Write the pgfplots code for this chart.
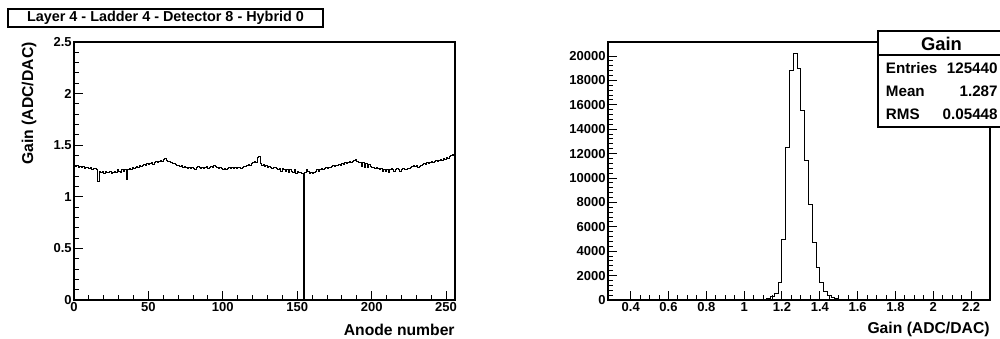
\documentclass[border=0pt]{standalone}
\usepackage{fontspec}
\setmainfont{Liberation Sans}
\usepackage{pgfplots}
\usepackage{pgfplotstable}
\pgfplotsset{compat=1.18}
\pgfplotstableread{
g
1.30
1.29
1.30
1.28
1.29
1.28
1.29
1.27
1.28
1.28
1.27
1.28
1.26
1.27
1.27
1.26
1.15
1.25
1.24
1.25
1.23
1.25
1.24
1.24
1.25
1.23
1.24
1.25
1.24
1.26
1.25
1.24
1.26
1.25
1.26
1.17
1.26
1.27
1.26
1.28
1.27
1.28
1.29
1.28
1.30
1.29
1.30
1.31
1.30
1.32
1.31
1.32
1.33
1.31
1.33
1.34
1.33
1.34
1.35
1.34
1.36
1.37
1.35
1.34
1.34
1.33
1.32
1.32
1.31
1.30
1.30
1.29
1.30
1.28
1.29
1.28
1.27
1.28
1.27
1.28
1.27
1.26
1.28
1.29
1.28
1.27
1.28
1.27
1.28
1.29
1.27
1.28
1.29
1.28
1.30
1.29
1.28
1.27
1.28
1.27
1.26
1.27
1.26
1.27
1.28
1.27
1.28
1.27
1.28
1.27
1.28
1.28
1.27
1.28
1.29
1.29
1.30
1.31
1.30
1.32
1.33
1.34
1.33
1.38
1.39
1.32
1.30
1.31
1.29
1.30
1.28
1.29
1.28
1.27
1.28
1.28
1.27
1.26
1.27
1.25
1.27
1.26
1.25
1.26
1.24
1.26
1.25
1.24
1.26
1.23
1.25
1.24
1.24
1.23
0
1.24
1.26
1.25
1.23
1.24
1.23
1.24
1.25
1.26
1.25
1.26
1.27
1.26
1.27
1.28
1.27
1.28
1.28
1.29
1.30
1.29
1.30
1.30
1.31
1.30
1.32
1.31
1.33
1.32
1.33
1.34
1.33
1.34
1.35
1.36
1.34
1.33
1.33
1.29
1.33
1.28
1.32
1.28
1.31
1.29
1.28
1.28
1.27
1.28
1.27
1.26
1.27
1.25
1.26
1.25
1.26
1.24
1.26
1.27
1.26
1.25
1.26
1.27
1.26
1.25
1.26
1.27
1.26
1.26
1.27
1.27
1.28
1.29
1.30
1.29
1.30
1.28
1.29
1.30
1.31
1.32
1.31
1.33
1.32
1.33
1.34
1.33
1.34
1.35
1.34
1.35
1.36
1.35
1.37
1.36
1.38
1.37
1.39
1.40
1.41
1.40
1.40
}\lefttab
\pgfplotstableread{
x n
0.28 0
1.08 0
1.10 40
1.12 120
1.14 300
1.16 520
1.18 1450
1.20 4940
1.22 12480
1.24 18830
1.26 20190
1.28 18990
1.30 15550
1.32 11420
1.34 7870
1.36 4700
1.38 2700
1.40 1420
1.42 710
1.44 330
1.46 170
1.48 100
1.50 50
1.52 20
1.54 0
2.30 0
}\righttab
\begin{document}
\begin{tikzpicture}[x=0.5pt,y=0.5pt,font=\bfseries]
\useasboundingbox (0,0) rectangle (1000,338);
\pgfplotsset{rootstyle/.style={
  scale only axis, height=129pt, anchor=south west,
  axis line style={line width=0.6pt},
  tick align=inside, xtick pos=bottom, ytick pos=left,
  major tick length=4.5pt, minor tick length=2.3pt,
  every tick/.style={black, line width=0.5pt},
  /pgf/number format/assume math mode=true,
  tick label style={font=\bfseries\fontsize{6.5}{7.8}\selectfont, inner sep=1pt},
  label style={font=\bfseries\fontsize{7.85}{9}\selectfont},
  xlabel style={at={(axis description cs:1,-0.116)}, anchor=east, inner sep=0pt},
}}
\begin{axis}[rootstyle, at={(37pt,19pt)}, width=190.5pt,
  xmin=0, xmax=256, ymin=0, ymax=2.5,
  xtick={0,50,100,150,200,250}, ytick={0,0.5,1,1.5,2,2.5},
  minor x tick num=4, minor y tick num=4,
  xlabel={Anode number}, ylabel={Gain (ADC/DAC)},
  ylabel style={at={(axis description cs:-0.118,1)}, anchor=east, inner sep=0pt}]
\addplot[const plot, black, line width=0.5pt] table[x expr=\coordindex, y=g] \lefttab;
\end{axis}
\begin{axis}[rootstyle, at={(304pt,19pt)}, width=191pt,
  xmin=0.28, xmax=2.3, ymin=0, ymax=21150,
  xtick={0.4,0.6,0.8,1,1.2,1.4,1.6,1.8,2,2.2},
  ytick={0,2000,4000,6000,8000,10000,12000,14000,16000,18000,20000},
  scaled y ticks=false,
  yticklabel style={/pgf/number format/1000 sep={}},
  minor x tick num=3, minor y tick num=4,
  xlabel={Gain (ADC/DAC)}]
\addplot[const plot, black, line width=0.5pt] table[x=x, y=n] \righttab;
\end{axis}
% title box
\draw[line width=0.6pt, fill=white] (8,311) rectangle (323,329);
\node[font=\bfseries\fontsize{7.2}{8.5}\selectfont] at (165.5,320) {Layer 4 - Ladder 4 - Detector 8 - Hybrid 0};
% stats box
\draw[line width=0.6pt, fill=white] (878,211) rectangle (1006,307);
\draw[line width=0.6pt] (878,283) -- (1006,283);
\node[font=\bfseries\fontsize{9.2}{11}\selectfont] at (941.5,294) {Gain};
\begin{scope}[every node/.style={font=\bfseries\fontsize{7.6}{9}\selectfont, inner sep=0pt}]
\node[anchor=west] at (885.5,269.7) {Entries};
\node[anchor=east] at (998,269.7) {125440};
\node[anchor=west] at (885.5,247) {Mean};
\node[anchor=east] at (998,247) {1.287};
\node[anchor=west] at (885.5,223.7) {RMS};
\node[anchor=east] at (998,223.7) {0.05448};
\end{scope}
\end{tikzpicture}
\end{document}
